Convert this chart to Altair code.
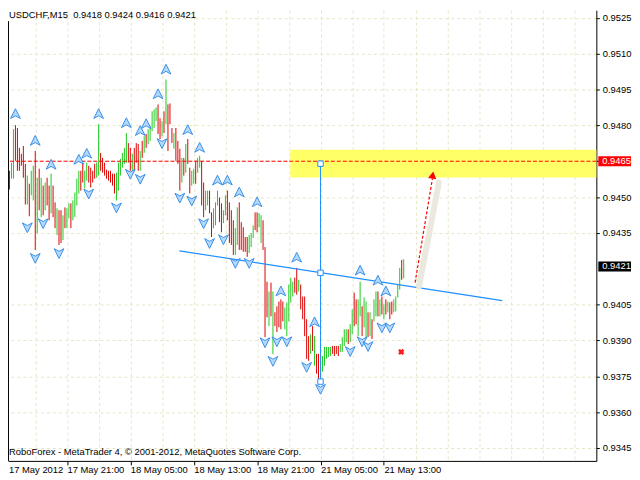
import altair as alt
import pandas as pd

FONT = "Liberation Sans"
GRID = "#e6e6c6"

# ---------------- M15 bars (index 0 = first bar at the left edge) ----------------
highs = [
    0.94519, 0.94610, 0.94615, 0.94610, 0.94644, 0.94784, 0.94801, 0.94789, 0.94706, 0.94681,
    0.94714, 0.94639, 0.94590, 0.94556, 0.94610, 0.94631, 0.94693, 0.94581, 0.94619, 0.94581,
    0.94548, 0.94561, 0.94581, 0.94548, 0.94598, 0.94548, 0.94478, 0.94453, 0.94445, 0.94445,
    0.94424, 0.94457, 0.94453, 0.94474, 0.94474, 0.94486, 0.94519, 0.94577, 0.94610, 0.94610,
    0.94639, 0.94610, 0.94644, 0.94631, 0.94623, 0.94610, 0.94639, 0.94644, 0.94805, 0.94685,
    0.94664, 0.94644, 0.94615, 0.94610, 0.94610, 0.94598, 0.94598, 0.94602, 0.94644, 0.94660,
    0.94685, 0.94706, 0.94768, 0.94726, 0.94706, 0.94681, 0.94706, 0.94726, 0.94722, 0.94693,
    0.94735, 0.94755, 0.94764, 0.94784, 0.94797, 0.94859, 0.94867, 0.94875, 0.94888, 0.94830,
    0.94818, 0.94859, 0.94992, 0.94888, 0.94892, 0.94789, 0.94768, 0.94789, 0.94735, 0.94702,
    0.94664, 0.94664, 0.94722, 0.94743, 0.94623, 0.94610, 0.94619, 0.94652, 0.94664, 0.94673,
    0.94652, 0.94561, 0.94527, 0.94527, 0.94527, 0.94436, 0.94453, 0.94478, 0.94527, 0.94498,
    0.94474, 0.94445, 0.94507, 0.94527, 0.94478, 0.94445, 0.94403, 0.94370, 0.94457, 0.94478,
    0.94395, 0.94374, 0.94333, 0.94333, 0.94341, 0.94349, 0.94382, 0.94436, 0.94436, 0.94432,
    0.94424, 0.94403, 0.94291, 0.94146, 0.94105, 0.94142, 0.94105, 0.94018, 0.94043, 0.94063,
    0.94072, 0.94063, 0.94038, 0.94059, 0.94134, 0.94163, 0.94146, 0.94163, 0.94204, 0.94154,
    0.94134, 0.94084, 0.94084, 0.93989, 0.93918, 0.93926, 0.93960, 0.93918, 0.93844, 0.93844,
    0.93823, 0.93835, 0.93873, 0.93873, 0.93873, 0.93873, 0.93877, 0.93877, 0.93877, 0.93877,
    0.93885, 0.93914, 0.93947, 0.93947, 0.93947, 0.93968, 0.94030, 0.94100, 0.94072, 0.94072,
    0.94146, 0.94043, 0.94080, 0.94063, 0.94018, 0.94018, 0.93989, 0.94072, 0.94105, 0.94105,
    0.94072, 0.94084, 0.94051, 0.94072, 0.94063, 0.94059, 0.94063, 0.94072, 0.94084, 0.94134,
    0.94204, 0.94237, 0.94240,
]
lows = [
    0.94449, 0.94498, 0.94519, 0.94532, 0.94577, 0.94577, 0.94652, 0.94610, 0.94610, 0.94631,
    0.94581, 0.94469, 0.94469, 0.94420, 0.94507, 0.94486, 0.94279, 0.94349, 0.94445, 0.94416,
    0.94424, 0.94445, 0.94465, 0.94403, 0.94432, 0.94416, 0.94370, 0.94341, 0.94300, 0.94308,
    0.94320, 0.94370, 0.94370, 0.94411, 0.94370, 0.94403, 0.94416, 0.94465, 0.94515, 0.94527,
    0.94561, 0.94536, 0.94569, 0.94561, 0.94540, 0.94561, 0.94577, 0.94581, 0.94590, 0.94610,
    0.94602, 0.94590, 0.94577, 0.94569, 0.94561, 0.94548, 0.94515, 0.94486, 0.94527, 0.94590,
    0.94623, 0.94639, 0.94644, 0.94644, 0.94610, 0.94602, 0.94610, 0.94644, 0.94610, 0.94610,
    0.94664, 0.94685, 0.94706, 0.94722, 0.94735, 0.94776, 0.94789, 0.94818, 0.94764, 0.94743,
    0.94755, 0.94768, 0.94805, 0.94693, 0.94805, 0.94726, 0.94702, 0.94652, 0.94639, 0.94527,
    0.94561, 0.94590, 0.94602, 0.94639, 0.94515, 0.94548, 0.94556, 0.94556, 0.94602, 0.94623,
    0.94465, 0.94416, 0.94445, 0.94465, 0.94432, 0.94333, 0.94370, 0.94382, 0.94465, 0.94395,
    0.94353, 0.94391, 0.94424, 0.94403, 0.94308, 0.94300, 0.94258, 0.94258, 0.94300, 0.94279,
    0.94279, 0.94271, 0.94271, 0.94250, 0.94266, 0.94291, 0.94329, 0.94362, 0.94353, 0.94374,
    0.94308, 0.94279, 0.93914, 0.93997, 0.93960, 0.94001, 0.93844, 0.93960, 0.93935, 0.93955,
    0.93947, 0.93980, 0.93947, 0.93918, 0.93980, 0.94059, 0.94084, 0.94100, 0.94092, 0.94105,
    0.94030, 0.93989, 0.93918, 0.93823, 0.93815, 0.93844, 0.93856, 0.93794, 0.93761, 0.93727,
    0.93740, 0.93769, 0.93794, 0.93823, 0.93831, 0.93835, 0.93844, 0.93835, 0.93844, 0.93835,
    0.93852, 0.93852, 0.93877, 0.93893, 0.93885, 0.93893, 0.93926, 0.93960, 0.93968, 0.93918,
    0.94001, 0.93918, 0.93955, 0.93906, 0.93914, 0.93918, 0.93906, 0.93980, 0.94001, 0.94001,
    0.94001, 0.94009, 0.93989, 0.94009, 0.94018, 0.93989, 0.94009, 0.94018, 0.94022, 0.94080,
    0.94113, 0.94154, 0.94160,
]
# G = bull bar (close above open), R = bear bar
bar_dir = list(
    "GGGRGGRRRR" "RRGRGGRGRG" "RGRRGRRGRR" "GRGGRGGGGR" "RGGRRRRGGR"
    "RRRRRRRGGG" "GGGRRGRRRG" "RGRGGGGGRR" "GRGRRRGRRR" "GRGRRGGRGG"
    "RRGGRRGGGR" "RGGRRRRGGR" "RRRRGGGRRG" "GRRRGRGRRR" "RRGGGGGRRG"
    "RRRRRGRGRR" "RGGGGGRRRR" "GGGGRGGRRG" "GRGGRGRGGR" "GRGRGRRGGG"
    "GRG"
)

# ---------------- fractal markers ----------------
up_i = [6, 16, 24, 38, 42, 48, 62, 69, 72, 78, 82, 93, 99, 108, 113, 119, 128, 140, 148, 157, 180, 189, 193]
up_p = [0.94847, 0.94735, 0.94635, 0.94656, 0.94681, 0.94847, 0.94809, 0.94776, 0.94805, 0.94930,
        0.95033, 0.94780, 0.94706, 0.94569, 0.94569, 0.94519, 0.94478, 0.94105, 0.94246, 0.93976,
        0.94192, 0.94150, 0.94105]
dn_i = [12, 16, 20, 28, 43, 57, 64, 69, 80, 89, 95, 101, 104, 111, 117, 124, 132, 136, 138, 143,
        153, 160, 175, 181, 184, 191, 195]
dn_p = [0.94374, 0.94246, 0.94391, 0.94266, 0.94515, 0.94457, 0.94598, 0.94577, 0.94726, 0.94498,
        0.94486, 0.94391, 0.94308, 0.94324, 0.94225, 0.94225, 0.93893, 0.93815, 0.93897, 0.93897,
        0.93790, 0.93698, 0.93856, 0.93897, 0.93877, 0.93955, 0.93955]

# ---------------- drawn objects ----------------
level_price = [0.9465]
zone_i, zone_i2 = [144.75], [300]
zone_top, zone_bottom = [0.94698], [0.94582]
trend_i = [88.75, 251.75]
trend_p = [0.94275, 0.94067]
vline_i = [160]
vline_top, vline_bottom = [0.94640], [0.93728]
square_p = [0.94640, 0.94183, 0.93728]
arrow_i = [207.75, 216.5]
arrow_p = [0.94142, 0.94577]
shadow_i = [209.75, 219.75]
shadow_p = [0.94125, 0.94561]
head_i, head_p = [216.65], [0.94592]
cross_i, cross_p = [200.75], [0.93852]

price_tags = [0.9465, 0.9421]
price_tag_colors = ["#ff0000", "#000000"]

y_ticks = [0.9345, 0.9360, 0.9375, 0.9390, 0.9405, 0.9435, 0.9450, 0.9465,
           0.9480, 0.9495, 0.9510, 0.9525]
x_label_pos = [32, 64, 96, 128, 160, 192]
x_labels = ["17 May 21:00", "18 May 05:00", "18 May 13:00", "18 May 21:00", "21 May 05:00", "21 May 13:00"]
first_label = "17 May 2012"
title_text = "USDCHF,M15 \u00a00.9418 0.9424 0.9416 0.9421"
footer_text = "RoboForex - MetaTrader 4, \u00a9 2001-2012, MetaQuotes Software Corp."

# ---------------- scales & axes ----------------
xs = alt.Scale(domain=[2.25, 299.25], nice=False, zero=False)
ys = alt.Scale(domain=[0.933961, 0.952819], nice=False, zero=False)

label_expr = "".join(f"datum.value == {p} ? '{t}' : " for p, t in zip(x_label_pos, x_labels)) + "''"

x_axis = alt.Axis(
    values=list(range(16, 300, 16)), grid=True, gridColor=GRID, gridDash=[3, 3], gridWidth=1,
    domain=True, domainColor="black", domainWidth=1,
    tickColor={"condition": {"test": "datum.value % 32 == 0 && datum.value <= 192", "value": "black"},
               "value": "transparent"},
    tickSize=4, labelExpr=label_expr, labelAlign="left", labelPadding=0,
    labelFont=FONT, labelFontSize=9.5, labelColor="black", labelOverlap=False, labelFlush=False,
    title=None,
)
y_axis = alt.Axis(
    orient="right", values=y_ticks, format=".4f", grid=True, gridColor=GRID, gridDash=[3, 3],
    gridWidth=1, domain=True, domainColor="black", domainWidth=1, tickColor="black", tickSize=3,
    labelPadding=3, labelFont=FONT, labelFontSize=9.5, labelColor="black", labelOverlap=False,
    labelFlush=False, title=None,
)


def X(field="i"):
    return alt.X(f"{field}:Q", scale=xs, axis=x_axis)


def Y(field):
    return alt.Y(f"{field}:Q", scale=ys, axis=y_axis)


bars = pd.DataFrame({"i": list(range(len(highs))), "high": highs, "low": lows, "dir": bar_dir})

zone = alt.Chart(pd.DataFrame({"i": zone_i, "i2": zone_i2, "top": zone_top, "bot": zone_bottom})).mark_rect(
    color="#ffff66", clip=True
).encode(x=X(), x2="i2:Q", y=Y("top"), y2="bot:Q")

bar_layer = alt.Chart(bars).mark_rule(strokeWidth=1, clip=True).encode(
    x=X(),
    y=Y("low"),
    y2="high:Q",
    color=alt.Color("dir:N", scale=alt.Scale(domain=["G", "R"], range=["#1fc81f", "#dc0000"]), legend=None),
)

level = alt.Chart(pd.DataFrame({"p": level_price})).mark_rule(
    color="#ff0000", strokeDash=[4, 2], strokeWidth=1
).encode(y=Y("p"))

trend = alt.Chart(pd.DataFrame({"i": trend_i, "p": trend_p})).mark_line(
    color="#1e90ff", strokeWidth=1.2
).encode(x=X(), y=Y("p"))

vline = alt.Chart(pd.DataFrame({"i": vline_i, "top": vline_top, "bot": vline_bottom})).mark_rule(
    color="#1e90ff", strokeWidth=1
).encode(x=X(), y=Y("top"), y2="bot:Q")

squares = alt.Chart(pd.DataFrame({"i": vline_i * 3, "p": square_p})).mark_point(
    shape="square", filled=True, fill="white", stroke="#1e90ff", strokeWidth=1, size=30, opacity=1
).encode(x=X(), y=Y("p"))

UP_PATH = "M0,-1L0.9,0.8L0,0.3L-0.9,0.8Z"
DN_PATH = "M0,1L0.9,-0.8L0,-0.3L-0.9,-0.8Z"
up_layer = alt.Chart(pd.DataFrame({"i": up_i, "p": up_p})).mark_point(
    shape=UP_PATH, filled=True, fill="#b4d9ff", stroke="#3a8fe6", strokeWidth=1, size=120, opacity=1
).encode(x=X(), y=Y("p"))
dn_layer = alt.Chart(pd.DataFrame({"i": dn_i, "p": dn_p})).mark_point(
    shape=DN_PATH, filled=True, fill="#b4d9ff", stroke="#3a8fe6", strokeWidth=1, size=120, opacity=1
).encode(x=X(), y=Y("p"))

shadow = alt.Chart(pd.DataFrame({"i": shadow_i, "p": shadow_p})).mark_line(
    color="#ebe8df", strokeWidth=6, strokeCap="round"
).encode(x=X(), y=Y("p"))

arrow_line = alt.Chart(pd.DataFrame({"i": arrow_i, "p": arrow_p})).mark_line(
    color="#ff0000", strokeWidth=1.2, strokeDash=[3, 2]
).encode(x=X(), y=Y("p"))

arrow_head = alt.Chart(pd.DataFrame({"i": head_i, "p": head_p})).mark_point(
    shape="triangle-up", filled=True, color="#ff0000", size=70, angle=9, opacity=1
).encode(x=X(), y=Y("p"))

cross = alt.Chart(pd.DataFrame({"i": cross_i, "p": cross_p})).mark_point(
    shape="cross", filled=True, color="#ff1a1a", size=40, angle=45, opacity=1
).encode(x=X(), y=Y("p"))

tags = pd.DataFrame({"p": price_tags, "c": price_tag_colors})
tags["top"] = tags["p"] + 0.00021
tags["bot"] = tags["p"] - 0.00021
tag_rect = alt.Chart(tags).mark_rect().encode(
    x=alt.value(596), x2=alt.value(629), y=Y("top"), y2="bot:Q",
    color=alt.Color("c:N", scale=None, legend=None),
)
tag_text = alt.Chart(tags).mark_text(
    align="left", baseline="middle", color="white", font=FONT, fontSize=9.5
).encode(x=alt.value(600), y=Y("p"), text=alt.Text("p:Q", format=".4f"))

title = alt.Chart(pd.DataFrame({"t": [title_text]})).mark_text(
    align="left", baseline="alphabetic", font=FONT, fontSize=9.5, color="black"
).encode(x=alt.value(1), y=alt.value(7.5), text="t:N")

footer = alt.Chart(pd.DataFrame({"t": [footer_text]})).mark_text(
    align="left", baseline="alphabetic", font=FONT, fontSize=9.5, color="black"
).encode(x=alt.value(1), y=alt.value(449), text="t:N")

first = alt.Chart(pd.DataFrame({"t": [first_label]})).mark_text(
    align="left", baseline="top", font=FONT, fontSize=9.5, color="black"
).encode(x=alt.value(1), y=alt.value(459), text="t:N")

left_border = alt.Chart(pd.DataFrame({"a": [0]})).mark_rule(color="black", strokeWidth=1).encode(
    x=alt.value(0.5), y=alt.value(11), y2=alt.value(455)
)

chart = alt.layer(
    zone, bar_layer, level, trend, vline, squares, up_layer, dn_layer, shadow, arrow_line,
    arrow_head, cross, tag_rect, tag_text, title, footer, first, left_border,
).properties(
    width=594, height=455,
    autosize=alt.AutoSizeParams(type="none"),
    padding={"left": 0, "top": 0, "right": 36, "bottom": 15},
    background="white",
).configure_view(stroke=None)

chart.save("out.html", embed_options={"renderer": "svg", "actions": False})
